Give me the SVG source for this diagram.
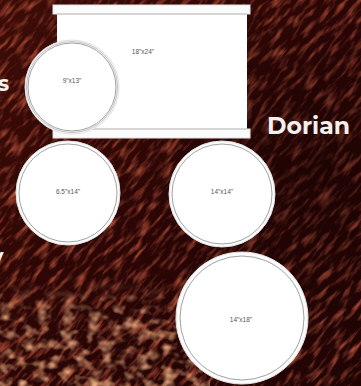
<svg xmlns="http://www.w3.org/2000/svg" width="361" height="386" viewBox="0 0 361 386">
<defs>
<style>
.hoop{fill:#fbfbfb;stroke:#e2e2e2;stroke-width:1}
.head{fill:#ffffff;stroke:#8a8a8a;stroke-width:0.8}
.lbl{font-family:"Liberation Sans",Arial,sans-serif;font-size:6.5px;fill:#555555;text-anchor:middle}
.big{font-family:"Montserrat","Open Sans","Liberation Sans",sans-serif;font-weight:700;fill:#f4f0ee}
</style>
<linearGradient id="bg" x1="0" y1="0" x2="1" y2="1">
<stop offset="0" stop-color="#3e0c07"/>
<stop offset="0.5" stop-color="#2a0605"/>
<stop offset="1" stop-color="#200404"/>
</linearGradient>
<linearGradient id="fade" x1="0" y1="0" x2="0" y2="1">
<stop offset="0" stop-color="#fff" stop-opacity="0"/>
<stop offset="0.35" stop-color="#fff" stop-opacity="0.9"/>
<stop offset="1" stop-color="#fff" stop-opacity="1"/>
</linearGradient>
<mask id="m2"><rect x="0" y="280" width="210" height="106" fill="url(#fade)"/></mask>
<radialGradient id="dark" cx="0.85" cy="0.45" r="0.45">
<stop offset="0" stop-color="#140202" stop-opacity="0.45"/>
<stop offset="1" stop-color="#140202" stop-opacity="0"/>
</radialGradient>
<filter id="noise" x="0" y="0" width="1" height="1">
<feTurbulence type="fractalNoise" baseFrequency="0.05 0.2" numOctaves="3" seed="7"/>
<feColorMatrix type="matrix" values="0 0 0 0 0.66  0 0 0 0 0.12  0 0 0 0 0.06  2.0 0 0 0 -0.95"/>
</filter>
<filter id="noise2" x="0" y="0" width="1" height="1">
<feTurbulence type="fractalNoise" baseFrequency="0.08 0.1" numOctaves="2" seed="3"/>
<feColorMatrix type="matrix" values="0 0 0 0 0.85  0 0 0 0 0.42  0 0 0 0 0.22  2.6 0 0 0 -1.2"/>
</filter>
</defs>
<g id="background">
<rect width="361" height="386" fill="url(#bg)"/>
<g transform="rotate(-50 180 193)">
<rect x="-120" y="-120" width="600" height="630" fill="#000" filter="url(#noise)"/>
</g>
<rect width="361" height="386" fill="url(#dark)"/>
<g mask="url(#m2)">
<rect x="0" y="280" width="210" height="106" fill="#000" filter="url(#noise2)"/>
</g>
</g>
<g id="kick-18x24">
<rect x="57" y="13" width="190" height="117" fill="#ffffff"/>
<rect class="hoop" x="53" y="5" width="197" height="9"/>
<rect class="hoop" x="53" y="129" width="197" height="9"/>
<line x1="57" y1="14" x2="247" y2="14" stroke="#b0b0b0" stroke-width="0.8"/>
<line x1="57" y1="129" x2="247" y2="129" stroke="#b0b0b0" stroke-width="0.8"/>
<text class="lbl" x="143" y="54">18"x24"</text>
</g>
<g id="tom-9x13">
<circle class="hoop" cx="72" cy="87" r="47"/>
<circle class="head" cx="72" cy="87" r="44"/>
<circle cx="72" cy="87" r="45.5" fill="none" stroke="#9a9a9a" stroke-width="0.6"/>
<text class="lbl" x="72" y="83">9"x13"</text>
</g>
<g id="snare-6.5x14">
<circle class="hoop" cx="68" cy="193" r="52"/>
<circle class="head" cx="68" cy="193" r="49"/>
<text class="lbl" x="68" y="194">6.5"x14"</text>
</g>
<g id="floor-14x14">
<circle class="hoop" cx="222" cy="194" r="53"/>
<circle class="head" cx="222" cy="194" r="50"/>
<text class="lbl" x="222" y="194">14"x14"</text>
</g>
<g id="floor-14x18">
<circle class="hoop" cx="242" cy="318" r="66"/>
<circle class="head" cx="242" cy="318" r="62"/>
<text class="lbl" x="241" y="322">14"x18"</text>
</g>
<g id="labels">
<text class="big" x="-2" y="91" font-size="21">s</text>
<text class="big" x="267" y="134" font-size="23" textLength="83" lengthAdjust="spacingAndGlyphs">Dorian</text>
<text class="big" x="-9" y="264" font-size="21">y</text>
</g>
</svg>
